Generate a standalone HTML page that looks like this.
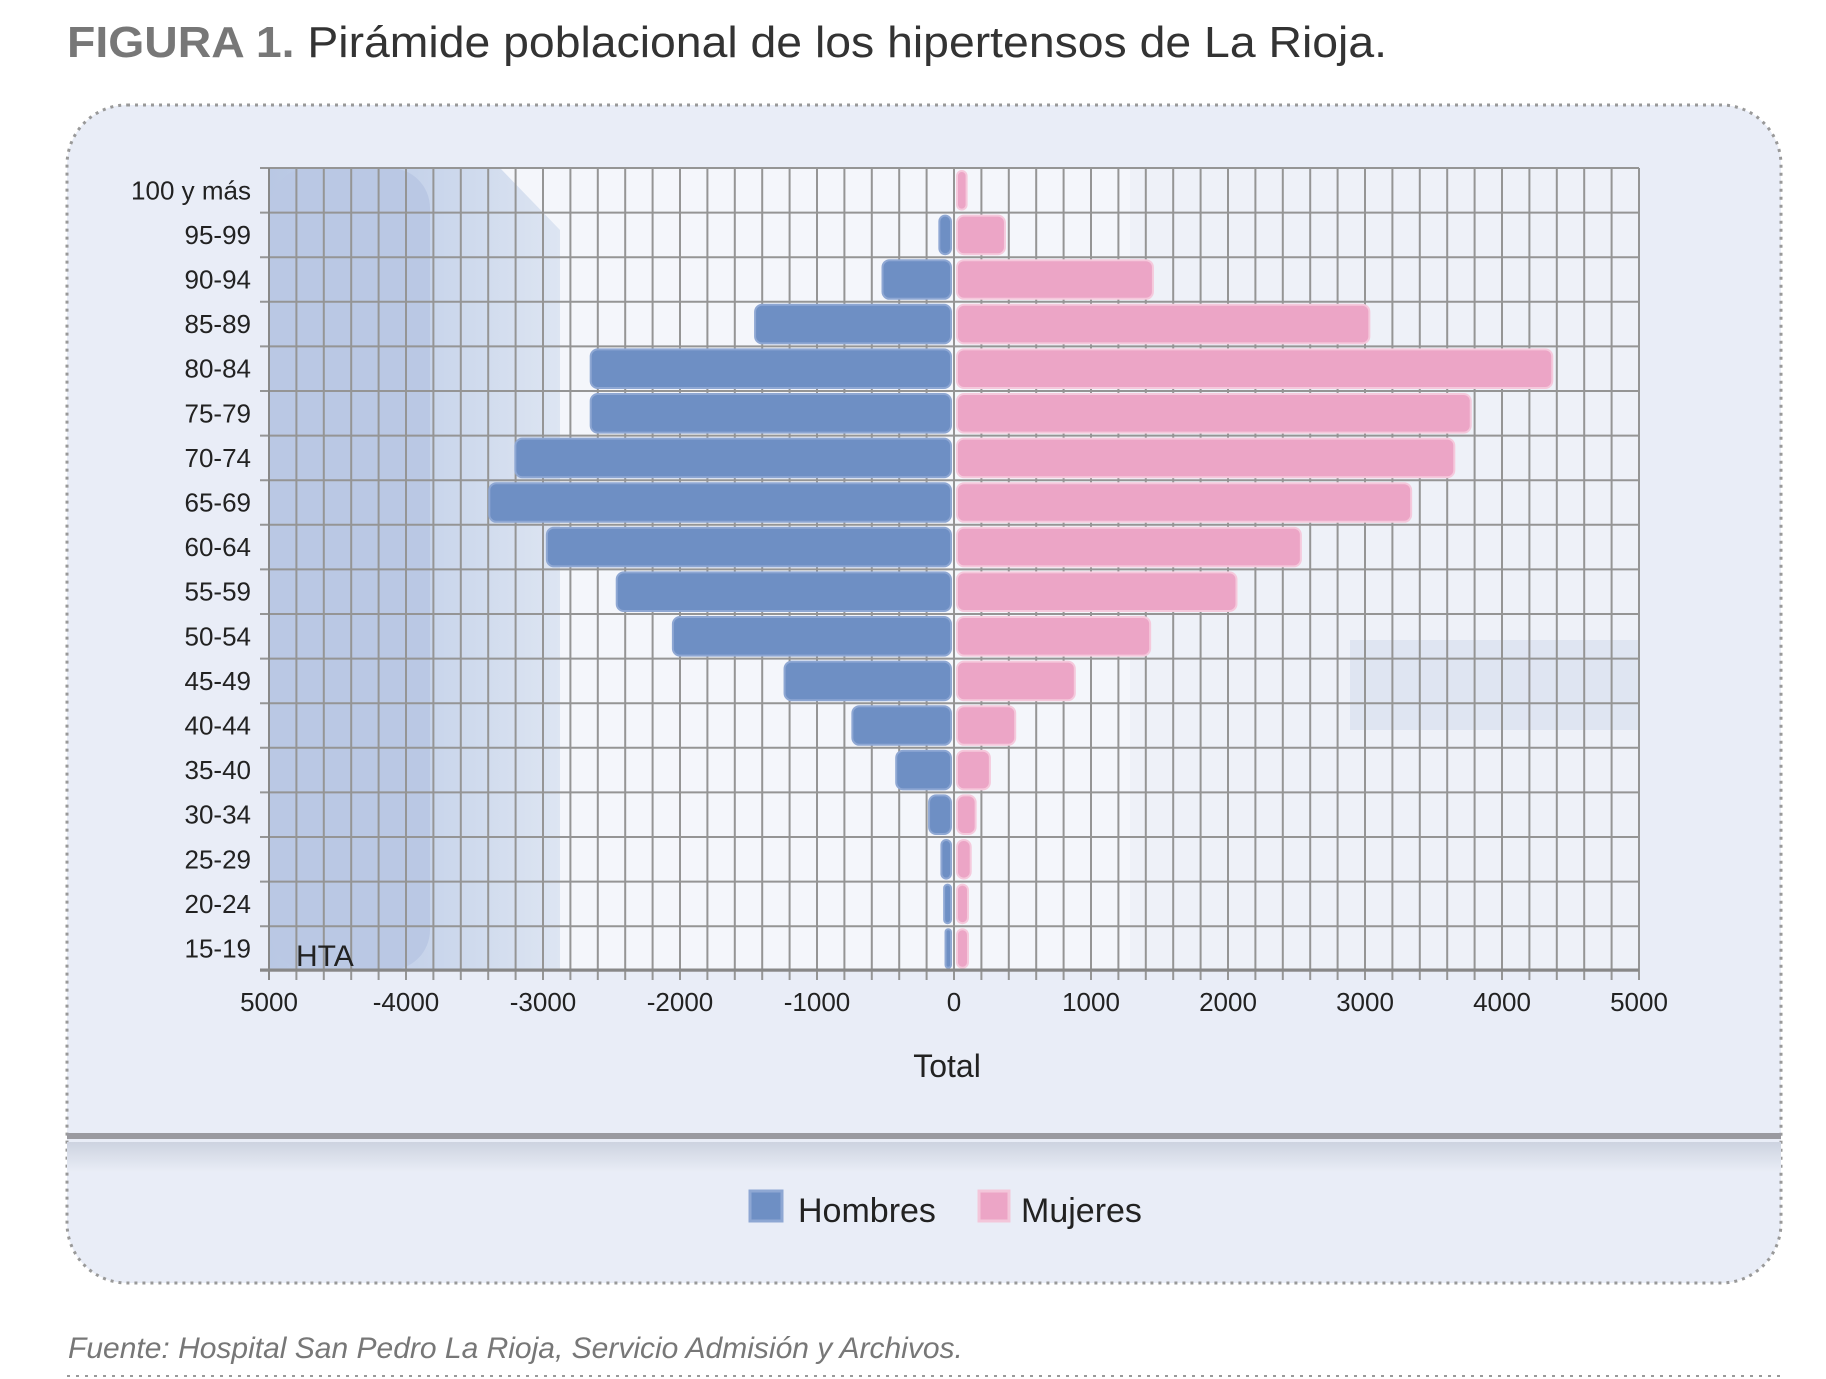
<!DOCTYPE html>
<html><head><meta charset="utf-8"><style>
html,body{margin:0;padding:0;background:#fff;}
svg{display:block;}
text{font-family:"Liberation Sans",sans-serif;}
</style></head><body>
<svg width="1826" height="1379" viewBox="0 0 1826 1379" xmlns="http://www.w3.org/2000/svg">
<defs>
<linearGradient id="lb" x1="0" x2="1" y1="0" y2="0">
<stop offset="0" stop-color="#b9c8e4"/><stop offset="0.5" stop-color="#c6d3ea"/><stop offset="1" stop-color="#dde5f2"/>
</linearGradient>
<linearGradient id="sh" x1="0" x2="0" y1="0" y2="1">
<stop offset="0" stop-color="#cdd3e0"/><stop offset="1" stop-color="#e9edf6"/>
</linearGradient>
</defs>
<text x="67" y="57" font-size="44" fill="#333" textLength="1320" lengthAdjust="spacingAndGlyphs"><tspan font-weight="bold" fill="#777">FIGURA 1.</tspan> Pirámide poblacional de los hipertensos de La Rioja.</text>
<rect x="67" y="105" width="1714" height="1178" rx="60" fill="#e9edf7" stroke="#999" stroke-width="3" stroke-dasharray="3 5"/>
<rect x="270" y="168" width="1369" height="802" fill="#eef1f8"/>
<rect x="430" y="168" width="700" height="802" fill="#f4f6fb"/>
<path d="M270 168 H500 L560 230 V970 H270 Z" fill="url(#lb)"/>
<rect x="270" y="168" width="160" height="802" rx="40" fill="#bac8e4"/>
<rect x="1350" y="640" width="289" height="90" fill="#dfe5f2"/>
<g stroke="#959595" stroke-width="2" id="grid"></g>
<g id="bars"></g>
<line x1="269" y1="168" x2="269" y2="980" stroke="#888" stroke-width="2"/>
<line x1="260" y1="970" x2="1639" y2="970" stroke="#888" stroke-width="3"/>
<text x="296" y="966" font-size="30" fill="#222">HTA</text>
<g id="ylab" font-size="26" fill="#222" text-anchor="end"></g>
<g id="xlab" font-size="26" fill="#222" text-anchor="middle"></g>
<text x="947" y="1077" font-size="32" fill="#222" text-anchor="middle">Total</text>
<rect x="67" y="1142" width="1714" height="30" fill="url(#sh)"/>
<rect x="67" y="1133" width="1714" height="6" fill="#9a9aa0"/>
<rect x="750" y="1191" width="32" height="30" fill="#6e8fc4" stroke="#8ea7d3" stroke-width="3"/>
<text x="798" y="1222" font-size="34" fill="#222">Hombres</text>
<rect x="979" y="1191" width="30" height="30" fill="#eca5c6" stroke="#f3c6da" stroke-width="3"/>
<text x="1021" y="1222" font-size="34" fill="#222">Mujeres</text>
<text x="68" y="1358" font-size="30" font-style="italic" fill="#777">Fuente: Hospital San Pedro La Rioja, Servicio Admisión y Archivos.</text>
<line x1="67" y1="1376" x2="1781" y2="1376" stroke="#999" stroke-width="2" stroke-dasharray="3 6"/>
</svg>
<script>
(function(){
var ns="http://www.w3.org/2000/svg";
function el(p,t,a,txt){var e=document.createElementNS(ns,t);for(var k in a)e.setAttribute(k,a[k]);if(txt!=null)e.textContent=txt;document.getElementById(p).appendChild(e);return e;}
var x0=269,x1=1639,z=954,s=(x1-x0)/10000,ty=168,rh=44.6;
for(var v=-5000;v<=5000;v+=200){var x=z+v*s;el("grid","line",{x1:x,y1:ty,x2:x,y2:980});}
for(var i=0;i<=18;i++){var y=ty+i*rh;el("grid","line",{x1:260,y1:y,x2:x1,y2:y});}
var labs=["100 y más","95-99","90-94","85-89","80-84","75-79","70-74","65-69","60-64","55-59","50-54","45-49","40-44","35-40","30-34","25-29","20-24","15-19"];
var H=[0,85,500,1430,2630,2630,3180,3370,2950,2440,2030,1215,720,400,160,70,50,40];
var M=[70,350,1430,3010,4345,3750,3630,3315,2510,2040,1410,860,425,240,136,100,80,80];
for(var i=0;i<18;i++){var y=ty+i*rh;
el("ylab","text",{x:251,y:y+rh/2+9},labs[i]);
if(H[i]>0){var w=H[i]*s;el("bars","rect",{x:z-3-w,y:y+3,width:w,height:rh-6,rx:Math.min(7,w/2),fill:"#6e8fc4",stroke:"#8ea7d3","stroke-width":2});}
var w2=M[i]*s;el("bars","rect",{x:z+3,y:y+3,width:w2,height:rh-6,rx:Math.min(7,w2/2),fill:"#eca5c6",stroke:"#f5c9dc","stroke-width":2});
}
for(var v=-5000;v<=5000;v+=1000){var x=z+v*s;el("xlab","text",{x:x,y:1011},v==-5000?"5000":String(v));}
})();
</script>
</body></html>
